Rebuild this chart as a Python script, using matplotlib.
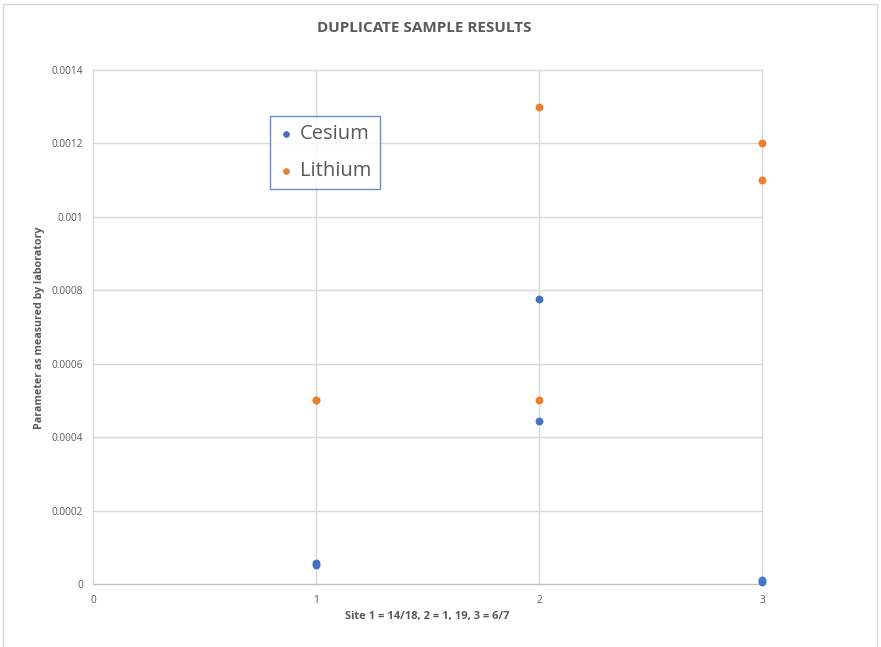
import matplotlib
matplotlib.use("Agg")
import matplotlib.pyplot as plt
from matplotlib.patches import Rectangle

plt.rcParams['font.family'] = ['Open Sans', 'DejaVu Sans']

cesium_x = [1, 1, 2, 2, 3, 3]
cesium_y = [0.000053, 0.000058, 0.000775, 0.000445, 0.000006, 0.00001]
lithium_x = [1, 1, 2, 2, 3, 3]
lithium_y = [0.0005, 0.0005, 0.0013, 0.0005, 0.0012, 0.0011]

title = "DUPLICATE SAMPLE RESULTS"
xlabel = "Site 1 = 14/18, 2 = 1, 19, 3 = 6/7"
ylabel = "Parameter as measured by laboratory"
yticks = [0, 0.0002, 0.0004, 0.0006, 0.0008, 0.001, 0.0012, 0.0014]
ytick_labels = ["0", "0.0002", "0.0004", "0.0006", "0.0008", "0.001", "0.0012", "0.0014"]
xticks = [0, 1, 2, 3]

W, H = 881, 647
fig = plt.figure(figsize=(W / 100, H / 100), dpi=100)
ax = fig.add_axes([93 / W, 1 - 584 / H, (762 - 93) / W, (584 - 70) / H])

ax.scatter(cesium_x, cesium_y, s=32, color="#4472C4", label="Cesium", zorder=3,
           linewidths=0, clip_on=False)
ax.scatter(lithium_x, lithium_y, s=32, color="#ED7D31", label="Lithium", zorder=3,
           linewidths=0, clip_on=False)

ax.set_xlim(0, 3)
ax.set_ylim(0, 0.0014)
ax.set_xticks(xticks)
ax.set_yticks(yticks)
ax.set_yticklabels(ytick_labels)
ax.grid(True, color="#D9D9D9", linewidth=1)
for gl in ax.get_xgridlines() + ax.get_ygridlines():
    gl.set_clip_on(False)
ax.set_axisbelow(True)
for s in ["top", "right", "left"]:
    ax.spines[s].set_visible(False)
ax.spines["bottom"].set_color("#BFBFBF")
ax.tick_params(length=0, labelsize=7.3, labelcolor="#595959")
ax.tick_params(axis="x", pad=8)
ax.tick_params(axis="y", pad=7)

fig.text(424 / W, 1 - 28 / H, title, ha="center", va="center",
         fontsize=11, fontweight="bold", color="#595959")
fig.text(427 / W, 1 - 617 / H, xlabel, ha="center", va="center",
         fontsize=8, fontweight="bold", color="#595959")
fig.text(40 / W, 1 - 328 / H, ylabel, ha="center", va="center", rotation=90,
         fontsize=7.7, fontweight="bold", color="#595959")

leg = ax.legend(loc="upper left", bbox_to_anchor=(270 / W, 1 - 116 / H),
                bbox_transform=fig.transFigure, borderaxespad=0,
                fontsize=14.5, frameon=True, fancybox=False,
                handletextpad=0.3, handlelength=0.8, borderpad=0.4,
                labelspacing=0.85, markerscale=0.85)
leg.get_frame().set_edgecolor("#4472C4")
leg.get_frame().set_linewidth(1)
for t in leg.get_texts():
    t.set_color("#595959")

fig.patches.append(Rectangle((3 / W, -0.01), (877 - 3) / W, 1.01 - 4 / H,
                             transform=fig.transFigure, fill=False,
                             edgecolor="#D9D9D9", linewidth=1))

fig.savefig("out.png", dpi=100)
